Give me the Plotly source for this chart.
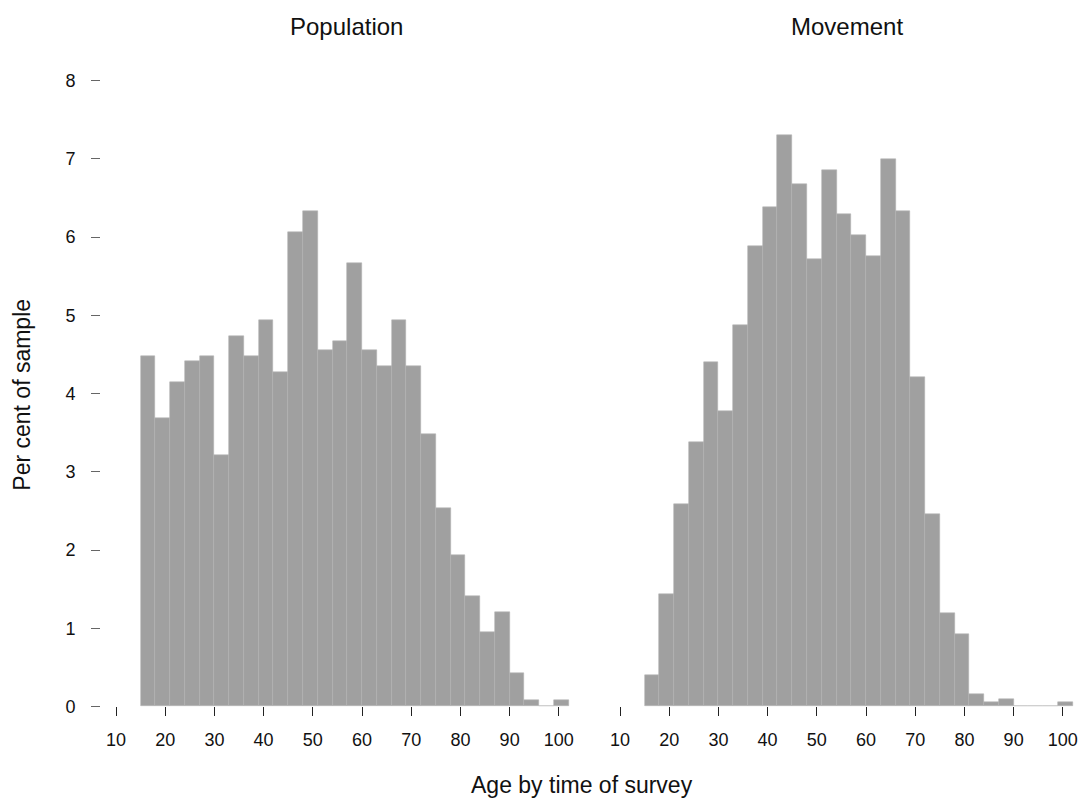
import plotly.graph_objects as go

bin_start = [15, 18, 21, 24, 27, 30, 33, 36, 39, 42, 45, 48, 51, 54, 57,
             60, 63, 66, 69, 72, 75, 78, 81, 84, 87, 90, 93, 96, 99]
bin_width = 3

population = [4.48, 3.68, 4.14, 4.41, 4.48, 3.21, 4.74, 4.48, 4.94, 4.28,
              6.06, 6.33, 4.55, 4.67, 5.67, 4.55, 4.35, 4.94, 4.35, 3.48,
              2.54, 1.94, 1.41, 0.95, 1.21, 0.42, 0.08, 0.0, 0.08]

movement = [0.40, 1.44, 2.59, 3.38, 4.40, 3.78, 4.88, 5.89, 6.38, 7.30,
            6.68, 5.72, 6.86, 6.29, 6.02, 5.76, 6.99, 6.33, 4.21, 2.46,
            1.19, 0.92, 0.16, 0.06, 0.10, 0.0, 0.0, 0.0, 0.06]

panel_titles = ["Population", "Movement"]
x_ticks = [10, 20, 30, 40, 50, 60, 70, 80, 90, 100]
y_ticks = [0, 1, 2, 3, 4, 5, 6, 7, 8]

W, H = 1083, 805
K = 0.9883  # vertical factor observed between layout and photo
FONT = "Liberation Sans, Arial, sans-serif"
BAR = "#a0a0a0"


def py(v):
    """target picture y -> layout y (pixels from top)"""
    return v / K


centers = [b + bin_width / 2 for b in bin_start]

fig = go.Figure()
fig.add_trace(go.Bar(x=centers, y=population, width=bin_width,
                     marker=dict(color=BAR, line=dict(width=0.6, color="#b4b4b4")),
                     xaxis="x", yaxis="y", showlegend=False))
fig.add_trace(go.Bar(x=centers, y=movement, width=bin_width,
                     marker=dict(color=BAR, line=dict(width=0.6, color="#b4b4b4")),
                     xaxis="x2", yaxis="y2", showlegend=False))

xr = [6.95, 103]
yr = [0, 8.3]
ydom = [(H - py(707)) / H, (H - py(707 - 8.3 * 78.29)) / H]

xcommon = dict(range=xr, tickvals=x_ticks, ticks="outside", ticklen=9,
               tickcolor="#222", tickwidth=1, showline=False, showgrid=False,
               zeroline=False, tickfont=dict(family=FONT, size=18, color="#111"),
               ticklabelstandoff=8)

fig.update_layout(
    width=W, height=H,
    margin=dict(l=0, r=0, t=0, b=0),
    paper_bgcolor="white", plot_bgcolor="white",
    bargap=0,
    xaxis=dict(domain=[101 / W, 573.6 / W], anchor="y", **xcommon),
    xaxis2=dict(domain=[605 / W, 1077.6 / W], anchor="y2", **xcommon),
    yaxis=dict(domain=ydom, range=yr, anchor="x", tickvals=y_ticks,
               ticks="outside", ticklen=9, tickcolor="#666", tickwidth=1,
               showline=False, showgrid=False, zeroline=False,
               tickfont=dict(family=FONT, size=18, color="#111"),
               ticklabelstandoff=12),
    yaxis2=dict(domain=ydom, range=yr, anchor="x2", visible=False),
    font=dict(family=FONT, color="#111"),
)

annotations = [
    dict(text=panel_titles[0], x=346 / W, y=(H - py(26.7)) / H, size=24),
    dict(text=panel_titles[1], x=847 / W, y=(H - py(26.7)) / H, size=24),
    dict(text="Age by time of survey", x=582 / W, y=(H - py(785.5)) / H, size=23),
    dict(text="Per cent of sample", x=22 / W, y=(H - py(395)) / H, size=23,
         textangle=-90),
]
for a in annotations:
    size = a.pop("size")
    fig.add_annotation(xref="paper", yref="paper", showarrow=False,
                       xanchor="center", yanchor="middle",
                       font=dict(family=FONT, size=size, color="#111"), **a)

fig.write_html(
    "out.html",
    config={"displayModeBar": False},
    post_script="document.body.style.margin='0';document.body.style.overflow='hidden';",
)
